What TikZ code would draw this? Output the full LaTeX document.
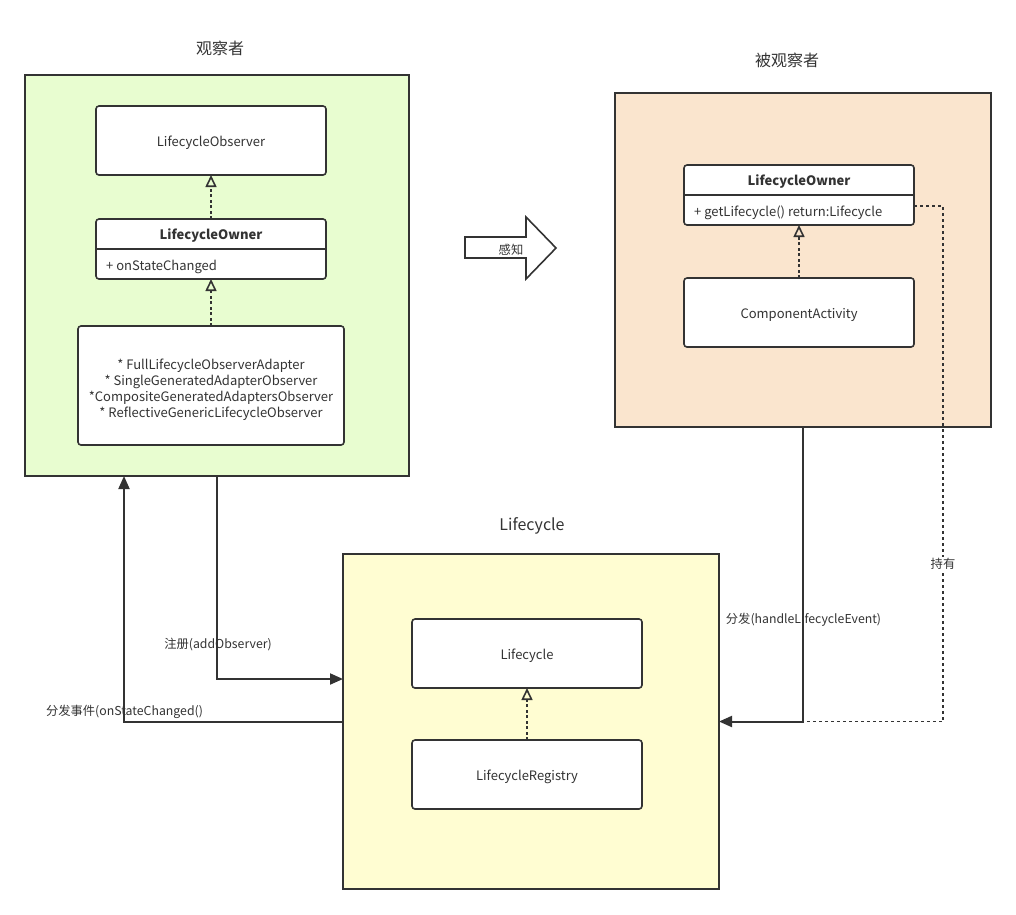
\documentclass[tikz,border=0pt]{standalone}
\usepackage{fontspec}
\setmainfont{Noto Sans CJK SC}
\usetikzlibrary{arrows.meta,calc}
\definecolor{ink}{HTML}{333333}
\definecolor{obsgreen}{HTML}{E8FDD0}
\definecolor{ownorange}{HTML}{FAE5CE}
\definecolor{lcyellow}{HTML}{FFFDD2}
\tikzset{
  every node/.style={text=ink},
  group/.style={draw=ink, line width=2pt, anchor=north west, inner sep=0pt, outer sep=0pt},
  cls/.style={draw=ink, fill=white, line width=1.6pt, rounded corners=3pt, anchor=north west,
              inner sep=0pt, outer sep=0pt, font=\fontsize{13}{16}\selectfont},
  clsone/.style={cls, text height=15pt, text depth=3pt},
  title/.style={font=\fontsize{16}{19}\selectfont},
  memb/.style={font=\fontsize{13}{16}\selectfont, inner sep=1pt},
  lbl/.style={font=\fontsize{12.3}{15}\selectfont, inner sep=1pt},
  realize/.style={draw=ink, line width=1.6pt, dash pattern=on 3pt off 2.5pt,
                  -{Triangle[open, length=12pt, width=11pt, line width=1.6pt]}},
  flow/.style={draw=ink, line width=2pt, -{Triangle[length=13pt, width=11pt]}},
  hold/.style={draw=ink, line width=1.8pt, dash pattern=on 3pt off 3pt},
}
\begin{document}
\begin{tikzpicture}[x=1pt,y=-1pt]
\useasboundingbox (0,0) rectangle (1016,914);

% ---------- observer group ----------
\node[title] (tobs) at (220,48) {观察者};
\node[group, fill=obsgreen, minimum width=384pt, minimum height=401pt] (obs) at (25,75) {};
\node[clsone, minimum width=230pt, minimum height=69pt] (lobs) at (96,106) {LifecycleObserver};
\node[cls, minimum width=230pt, minimum height=60pt] (lown) at (96,219) {};
\draw[ink, line width=1.6pt] ($(lown.north west)+(0,30)$) -- ($(lown.north east)+(0,30)$);
\node[memb, font=\fontsize{13}{16}\selectfont\bfseries] (lownh) at ($(lown.north)+(0,17)$) {LifecycleOwner};
\node[memb, anchor=west] (lownm) at ($(lown.north west)+(9,47.5)$) {+ onStateChanged};
\node[cls, minimum width=266pt, minimum height=119pt] (adp) at (78,326)
  {\raisebox{-4.5pt}[\height][\depth]{\begin{tabular}{@{}c@{}}* FullLifecycleObserverAdapter\\{}* SingleGeneratedAdapterObserver\\{}*CompositeGeneratedAdaptersObserver\\{}* ReflectiveGenericLifecycleObserver\end{tabular}}};
\draw[realize] (lown.north) -- (lobs.south);
\draw[realize] (adp.north) -- (lown.south);

% ---------- sense arrow ----------
\draw[ink, line width=1.6pt, fill=white] (465,237) -- (526,237) -- (526,217) -- (556,248)
  -- (526,279) -- (526,258) -- (465,258) -- cycle;
\node[lbl] (sense) at (511,249.5) {感知};

% ---------- observed group ----------
\node[title] (town) at (787,60) {被观察者};
\node[group, fill=ownorange, minimum width=376pt, minimum height=334pt] (own) at (615,93) {};
\node[cls, minimum width=230pt, minimum height=60pt] (rown) at (684,165) {};
\draw[ink, line width=1.6pt] ($(rown.north west)+(0,30)$) -- ($(rown.north east)+(0,30)$);
\node[memb, font=\fontsize{13}{16}\selectfont\bfseries] (rownh) at ($(rown.north)+(0,17)$) {LifecycleOwner};
\node[memb, anchor=west] (rownm) at ($(rown.north west)+(9,47.5)$) {+ getLifecycle() return:Lifecycle};
\node[clsone, minimum width=230pt, minimum height=69pt] (comp) at (684,278) {ComponentActivity};
\draw[realize] (comp.north) -- (rown.south);

% ---------- lifecycle group ----------
\node[title] (tlc) at (532,526) {Lifecycle};
\node[group, fill=lcyellow, minimum width=376pt, minimum height=335pt] (lc) at (343,554) {};
\node[clsone, minimum width=230pt, minimum height=69pt] (lcy) at (412,619) {Lifecycle};
\node[clsone, minimum width=230pt, minimum height=69pt] (reg) at (412,740) {LifecycleRegistry};
\draw[realize] (reg.north) -- (lcy.south);

% ---------- connectors ----------
\coordinate (regy) at (0,679);
\coordinate (backx) at (124,0);
\coordinate (holdx) at (943,0);
\coordinate (holdy) at (0,206);

\draw[flow] (obs.south) |- (lc.west |- regy);
\node[lbl] (lreg) at (218,644) {注册(addObserver)};

\draw[flow] (lc.west) -| (obs.south -| backx);
\node[lbl] (lback) at (124.5,712) {分发事件(onStateChanged()};

\draw[flow] (own.south) |- (lc.east);
\node[lbl] (ldisp) at (803.5,620) {分发(handleLifecycleEvent)};

\draw[hold] (rown.east |- holdy) -| (lc.east -| holdx) -- (lc.east -| own.south);
\node[lbl, fill=white, inner sep=1pt] (lhold) at (943,564) {持有};
\end{tikzpicture}
\end{document}
